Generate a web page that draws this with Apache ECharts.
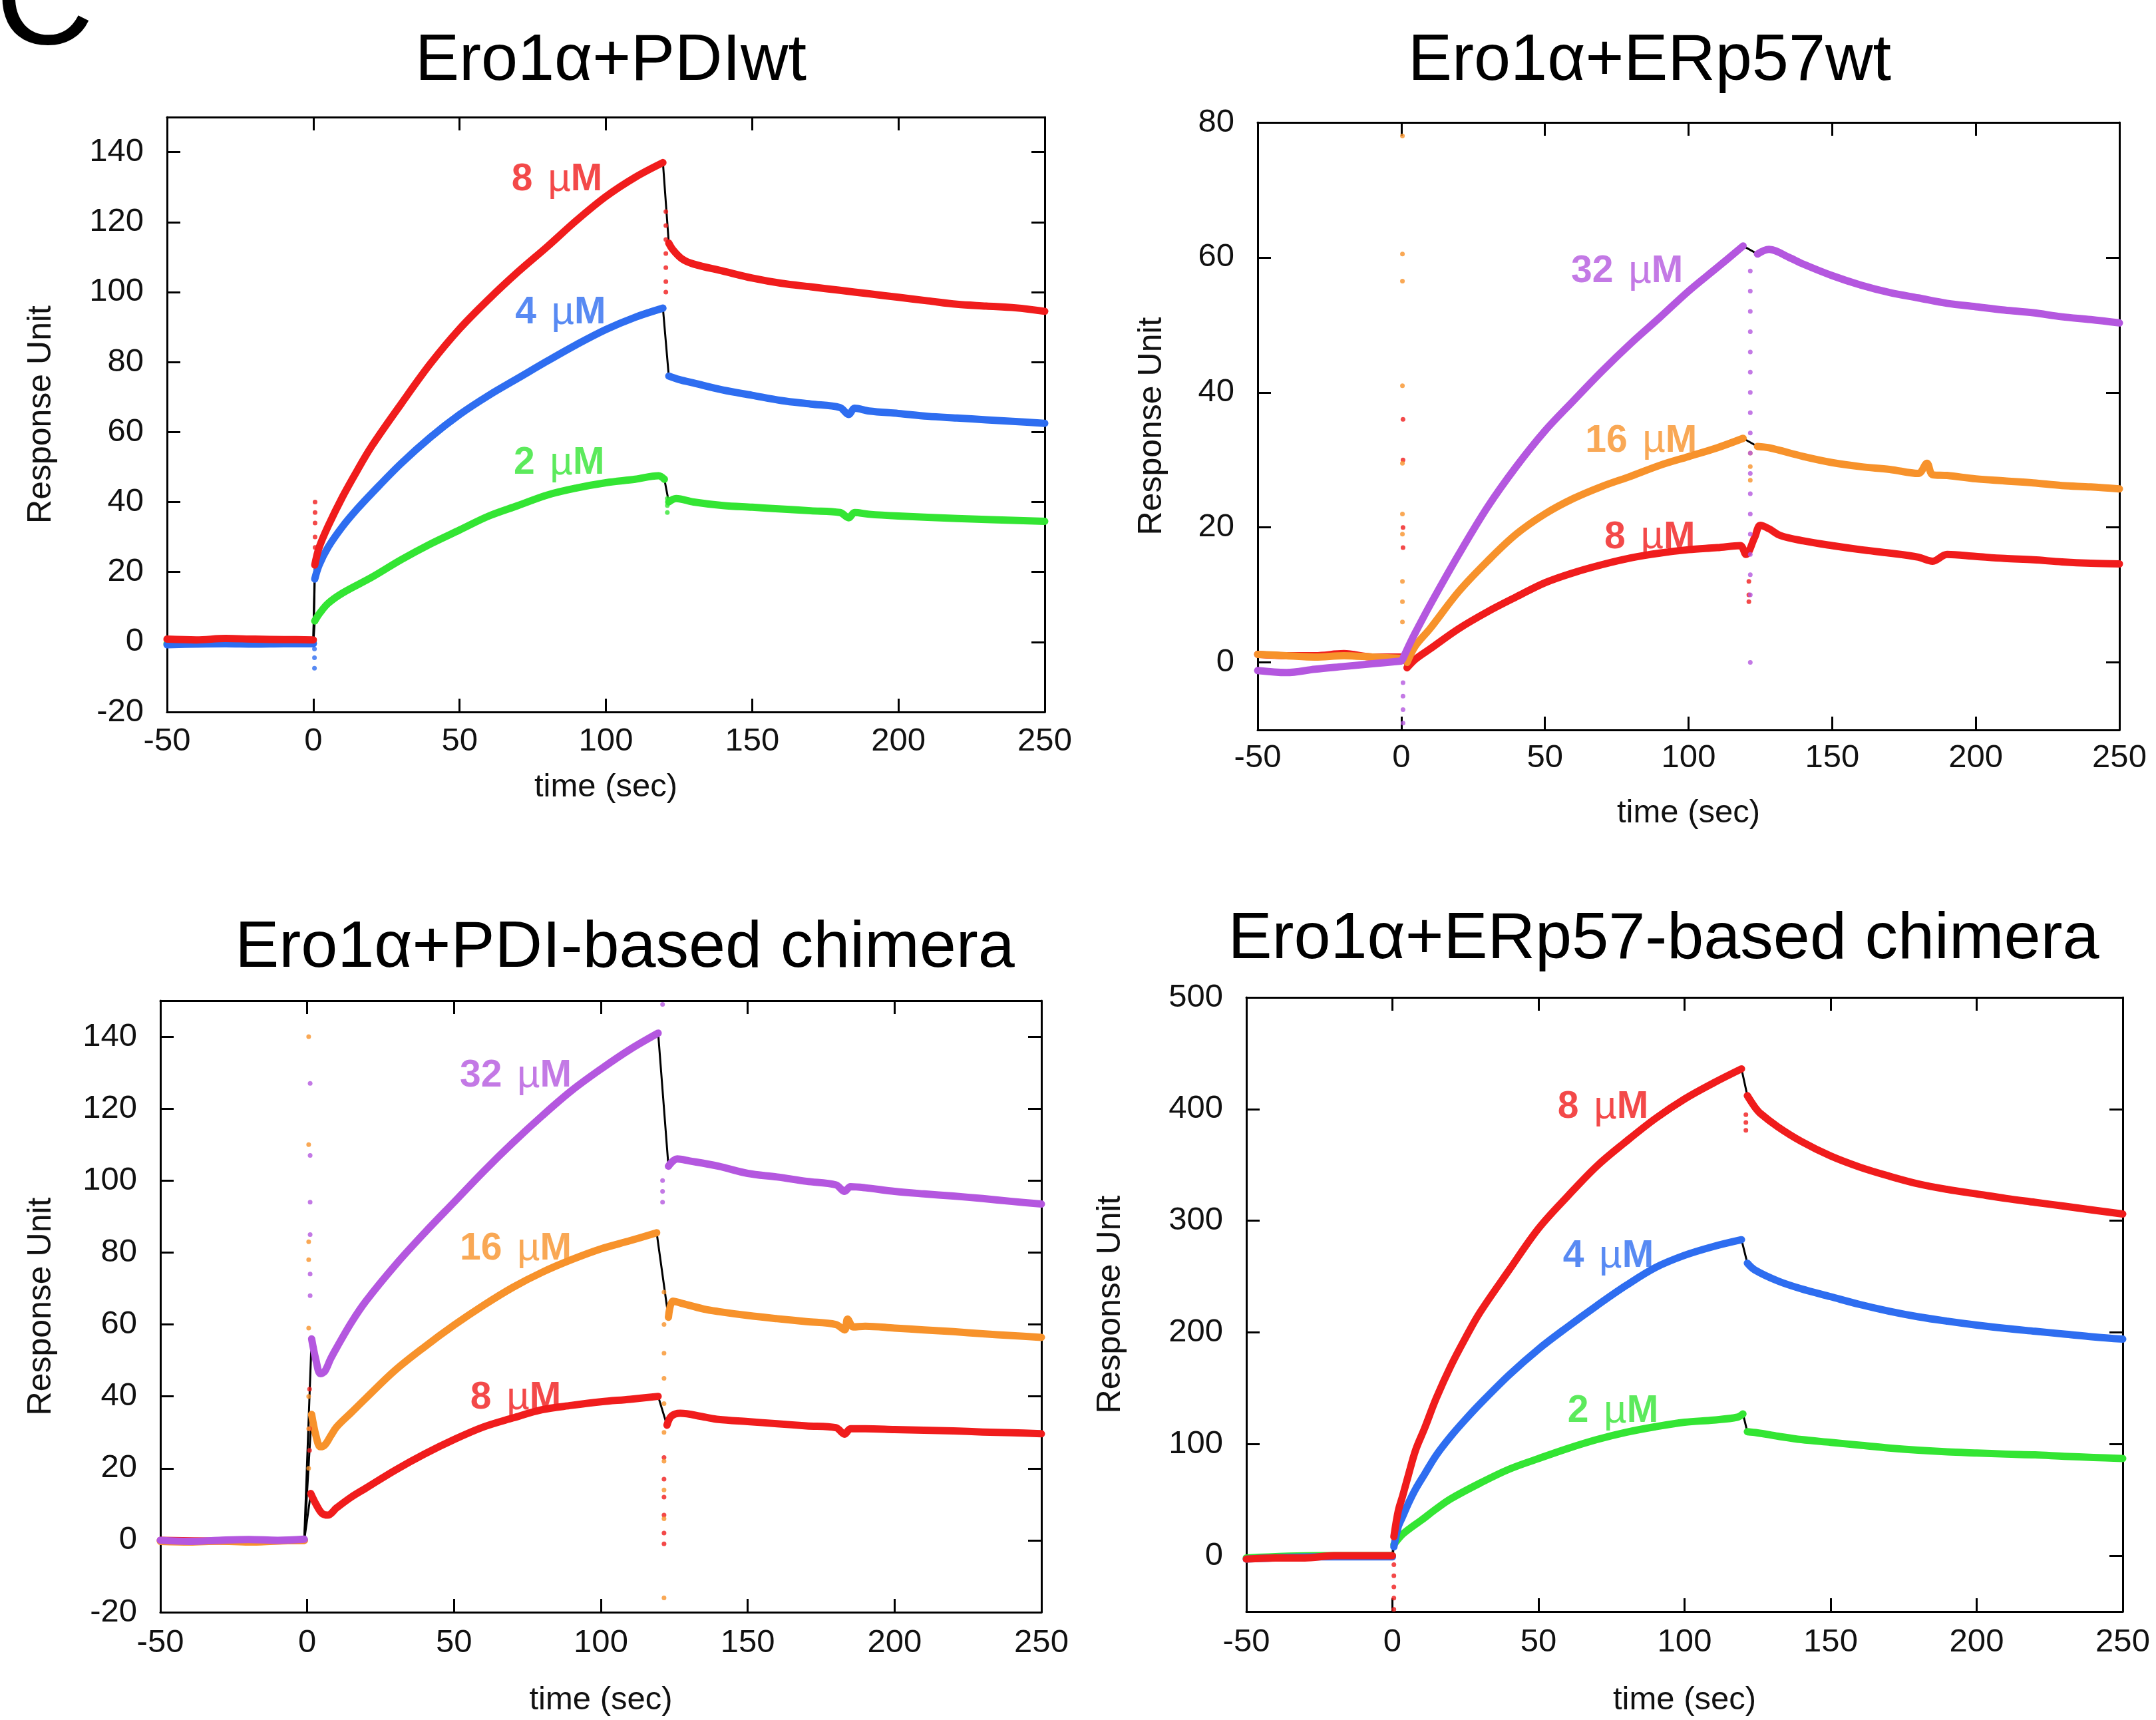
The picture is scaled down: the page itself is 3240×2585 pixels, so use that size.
<!DOCTYPE html>
<html><head><meta charset="utf-8">
<script src="https://cdn.jsdelivr.net/npm/echarts@6/dist/echarts.min.js"></script>
<style>html,body{margin:0;padding:0;background:#fff}#c{width:3240px;height:2585px}</style>
</head><body><div id="c"></div>
<script>
// ---------- tick labels ----------
const X_TICKS = [-50, 0, 50, 100, 150, 200, 250];
const Y_TICKS_PDI = [-20, 0, 20, 40, 60, 80, 100, 120, 140];
const Y_TICKS_ERP57 = [0, 20, 40, 60, 80];
const Y_TICKS_ERP57CH = [0, 100, 200, 300, 400, 500];

// ---------- panel 1: Ero1a+PDIwt ----------
const P1_RED = [[-50,0.8],[-40,0.6],[-30,1.0],[-20,0.8],[-10,0.7],[0,0.6],null,
 [0.5,22],[2,27],[5,33],[10,41.5],[15,49],[20,56],[30,68],[40,79.5],[50,89.5],[60,98],[70,105.8],[80,113],[90,120.5],[100,127.3],[110,132.8],[119.5,137],null,
 [121.5,114],[123,112],[126,109.5],[130,108],[140,106],[150,104],[160,102.5],[170,101.5],[180,100.5],[190,99.5],[200,98.5],[210,97.5],[220,96.5],[230,96],[240,95.5],[250,94.5]];
const P1_BLUE = [[-50,-0.8],[-40,-0.6],[-30,-0.5],[-20,-0.6],[-10,-0.5],[0,-0.5],null,
 [0.5,18],[2,22],[5,27],[10,33],[15,38],[20,42.5],[30,51],[40,58.5],[50,65],[60,70.5],[70,75.4],[80,80.3],[90,85],[100,89.3],[110,92.8],[119.5,95.4],null,
 [121.5,76],[125,75],[130,74],[140,72],[150,70.5],[160,69],[170,68],[180,67],[183,65],[185,66.8],[190,66],[200,65.3],[210,64.5],[220,64],[230,63.5],[240,63],[250,62.5]];
const P1_GREEN = [[-50,-0.5],[-30,-0.4],[-10,-0.3],[0,-0.3],null,
 [0.5,6],[2,8],[5,11],[10,14],[20,18.5],[30,23.5],[40,28],[50,32],[60,36],[70,39],[80,42],[90,44],[100,45.5],[110,46.5],[118,47.5],[120,46.5],null,
 [121.5,40],[124,41],[130,40],[140,39],[150,38.5],[160,38],[170,37.5],[180,37],[183,35.5],[185,37],[190,36.5],[200,36],[220,35.3],[250,34.5]];
const P1_RED_SPK = [[0.6,40],[0.6,37],[0.6,34],[0.6,30],[0.6,27],[120.5,123],[120.5,119],[120.5,115],[120.5,111],[120.5,107],[120.5,103],[120.5,100]];
const P1_BLUE_SPK = [[0.4,-2],[0.4,-4.5],[0.4,-7.5]];
const P1_GREEN_SPK = [[121,37],[121,39],[121,41]];

// ---------- panel 2: Ero1a+ERp57wt ----------
const P2_PURPLE = [[-50,-1.2],[-40,-1.5],[-30,-1],[-20,-0.6],[-10,-0.2],[0,0.2],null,
 [0.5,0.5],[3,2.8],[5,4.5],[10,8.5],[20,16],[30,23],[40,29],[50,34.3],[60,38.8],[70,43.2],[80,47.3],[90,51.1],[100,55],[110,58.5],[119,61.7],null,
 [124,60.5],[128,61.2],[135,60],[140,59],[150,57.3],[160,55.9],[170,54.8],[180,54],[190,53.2],[200,52.7],[210,52.2],[220,51.8],[230,51.2],[240,50.8],[250,50.3]];
const P2_ORANGE = [[-50,1.2],[-40,1.0],[-30,0.8],[-20,1.0],[-10,0.8],[0,0.6],null,
 [2,0],[5,2.5],[10,5],[20,10.5],[30,15],[40,19],[50,22],[60,24.3],[70,26.1],[80,27.6],[90,29.2],[100,30.5],[110,31.8],[119,33.2],null,
 [124,32],[128,31.8],[140,30.5],[150,29.6],[160,29],[170,28.6],[180,28],[183,29.5],[185,27.8],[190,27.7],[200,27.2],[210,26.9],[220,26.6],[230,26.2],[240,26],[250,25.7]];
const P2_RED = [[-50,1.2],[-40,1.0],[-30,1.0],[-20,1.3],[-10,0.8],[0,0.8],null,
 [2,-0.8],[5,0.5],[10,2],[20,5],[30,7.5],[40,9.7],[50,11.8],[60,13.3],[70,14.5],[80,15.5],[90,16.2],[100,16.7],[110,17],[118,17.3],[120,16],
 [123,18.5],[125,20.3],[128,19.8],[132,18.8],[140,18],[150,17.3],[160,16.7],[170,16.2],[180,15.6],[185,15],[190,16],[200,15.7],[210,15.4],[220,15.2],[230,14.9],[240,14.7],[250,14.6]];
const P2_PURPLE_SPK = [[0.6,-3],[0.6,-5],[0.6,-7],[0.6,-9],[121.5,58],[121.5,55],[121.5,52],[121.5,49],[121.5,46],[121.5,43],[121.5,40],[121.5,37],[121.5,34],[121.5,31],[121.5,28],[121.5,25],[121.5,22],[121.5,19],[121.5,16],[121.5,13],[121.5,10],[121.5,0]];
const P2_ORANGE_SPK = [[0.4,78],[0.4,60.5],[0.4,56.5],[0.4,41],[0.4,29.5],[0.4,22],[0.4,19],[0.4,12],[0.4,9],[0.4,6],[121.5,31],[121.5,29],[121.5,27]];
const P2_RED_SPK = [[0.6,36],[0.6,30],[0.6,20],[0.6,17],[121,12],[121,10],[121,9]];

// ---------- panel 3: Ero1a+PDI-based chimera ----------
const P3_PURPLE = [[-50,0],[-40,-0.3],[-30,0],[-20,0.2],[-10,0],[-1,0.3],null,
 [1.5,56],[3,50],[4.5,46.3],[6,47],[8,50.5],[10,53.5],[15,60.5],[20,66.5],[30,76.5],[40,85.5],[50,94],[60,102.5],[70,110.5],[80,118],[90,125],[100,131],[110,136.5],[119.5,141],null,
 [123,104],[126,106],[130,105.5],[140,104],[150,102],[160,101],[170,99.8],[180,98.8],[183,97],[185,98.3],[190,98],[200,97],[210,96.3],[220,95.7],[230,95],[240,94.2],[250,93.5]];
const P3_ORANGE = [[-50,-0.3],[-40,-0.5],[-30,-0.2],[-20,-0.5],[-10,-0.2],[-1,0],null,
 [1.5,35],[3,29],[4.5,26],[6,26.5],[8,29],[10,31.5],[15,35.5],[20,39.5],[30,47.3],[40,53.8],[50,59.8],[60,65.3],[70,70.3],[80,74.5],[90,78],[100,81],[110,83.3],[119,85.5],null,
 [123,62],[124.5,66.5],[127,66],[135,64.3],[140,63.6],[150,62.5],[160,61.6],[170,60.8],[180,60],[183,58.5],[184,61.5],[186,59.3],[190,59.5],[200,59],[210,58.5],[220,58],[230,57.4],[240,56.9],[250,56.4]];
const P3_RED = [[-50,0],[-25,-0.2],[-1,0],null,
 [1.2,13],[3,10],[5,7.5],[7,7],[10,9],[15,12],[20,14.5],[30,19.5],[40,24],[50,28],[60,31.5],[70,34],[80,36.3],[90,37.5],[100,38.5],[110,39.2],[119.5,40],null,
 [122.5,32],[124,34.5],[127,35.3],[135,34.3],[140,33.6],[150,33],[160,32.4],[170,31.8],[180,31.3],[183,29.5],[185,31],[190,31],[200,30.8],[210,30.6],[220,30.4],[230,30.1],[240,29.9],[250,29.6]];
const P3_PURPLE_SPK = [[1,127],[1,107],[1,94],[1,85],[1,74],[1,68],[121,149],[121,100],[121,97],[121,94]];
const P3_ORANGE_SPK = [[0.5,140],[0.5,110],[0.5,83],[0.5,78],[0.5,59],[0.5,40],[0.5,31],[0.5,20],[121.5,69],[121.5,60],[121.5,52],[121.5,45],[121.5,38],[121.5,30],[121.5,22],[121.5,14],[121.5,6],[121.5,-16]];
const P3_RED_SPK = [[0.8,42],[0.8,31],[0.8,25],[121.5,23],[121.5,17],[121.5,12],[121.5,7],[121.5,2],[121.5,-1]];

// ---------- panel 4: Ero1a+ERp57-based chimera ----------
const P4_RED = [[-50,-3],[-40,-2],[-30,-2],[-20,0],[-10,0],[0,0],null,
 [0.5,17],[2,40],[3.5,53.5],[5.5,72.5],[8,95],[11,114],[15,141],[20,170],[25,195],[30,218],[40,256],[50,293],[60,322],[70,349],[80,371],[90,391.5],[100,409],[110,423.5],[119.5,436],null,
 [121.5,412],[124,402],[126,396],[132,384],[140,371],[150,358],[160,348],[170,340],[180,333],[190,328],[200,324],[210,320],[220,316.5],[230,313],[240,309.5],[250,306]];
const P4_BLUE = [[-50,-3],[-25,-1],[0,-1],null,
 [0.5,8],[2,26],[3.5,35],[5.5,47],[8,60],[11,73],[15,90],[20,107],[25,122],[30,136],[40,162],[50,185],[60,205],[70,224],[80,242],[90,258],[100,269],[110,277],[119.5,283],null,
 [121.5,262],[124,256],[132,246],[140,239],[150,232],[160,225],[170,219],[180,214],[190,210],[200,206.5],[210,203.5],[220,201],[230,198.5],[240,196],[250,194]];
const P4_GREEN = [[-50,-2],[-25,0],[0,0],null,
 [0.5,10],[3,18],[5.5,23.5],[10,32],[15,42],[20,51],[30,65],[40,77.5],[50,87],[60,96],[70,104],[80,110.5],[90,115.5],[100,119.5],[110,121.5],[118,124],[120,127],null,
 [121.5,111],[125,110],[132,107],[140,104],[150,101.5],[160,99],[170,96.5],[180,94.5],[190,93],[200,92],[210,91],[220,90.3],[230,89],[240,88],[250,87]];
const P4_RED_SPK = [[0.5,-8],[0.5,-18],[0.5,-28],[0.5,-38],[0.5,-48],[121,395],[121,388],[121,381]];
const EMPTY = [];

// ---------- styling ----------
const FONT = "'Liberation Sans', Arial, Helvetica, sans-serif";
const RED = '#f01c1c', BLUE = '#2e6df0', GREEN = '#33e533', ORANGE = '#f7922b', PURPLE = '#b457df';

const panels = [
  { title:'Ero1\u03b1+PDIwt', tx:918, ty:93, grid:{left:251, top:176, width:1319, height:894},
    yMin:-20, yMax:150, yTicks:Y_TICKS_PDI, xMargin:20, xNameGap:89, yNameGap:164,
    curves:[
      {conc:'2', color:GREEN, data:P1_GREEN, spikes:P1_GREEN_SPK, at:[84,51]},
      {conc:'4', color:BLUE, data:P1_BLUE, spikes:P1_BLUE_SPK, at:[84.5,94]},
      {conc:'8', color:RED, data:P1_RED, spikes:P1_RED_SPK, at:[83.3,132]}
    ]},
  { title:'Ero1\u03b1+ERp57wt', tx:2479, ty:93, grid:{left:1890, top:184, width:1295, height:913},
    yMin:-10, yMax:80, yTicks:Y_TICKS_ERP57, xMargin:18, xNameGap:101, yNameGap:134,
    curves:[
      {conc:'8', color:RED, data:P2_RED, spikes:P2_RED_SPK, at:[86.5,18.5]},
      {conc:'16', color:ORANGE, data:P2_ORANGE, spikes:P2_ORANGE_SPK, at:[83.5,32.8]},
      {conc:'32', color:PURPLE, data:P2_PURPLE, spikes:P2_PURPLE_SPK, at:[78.6,57.9]}
    ]},
  { title:'Ero1\u03b1+PDI-based chimera', tx:939, ty:1426, grid:{left:241, top:1504, width:1324, height:919},
    yMin:-20, yMax:150, yTicks:Y_TICKS_PDI, xMargin:22, xNameGap:108, yNameGap:154,
    curves:[
      {conc:'8', color:RED, data:P3_RED, spikes:P3_RED_SPK, at:[71,39.5]},
      {conc:'16', color:ORANGE, data:P3_ORANGE, spikes:P3_ORANGE_SPK, at:[71,81]},
      {conc:'32', color:PURPLE, data:P3_PURPLE, spikes:P3_PURPLE_SPK, at:[71,129]}
    ]},
  { title:'Ero1\u03b1+ERp57-based chimera', tx:2500, ty:1413, grid:{left:1873, top:1499, width:1317, height:923},
    yMin:-50, yMax:500, yTicks:Y_TICKS_ERP57CH, xMargin:22, xNameGap:109, yNameGap:179,
    curves:[
      {conc:'2', color:GREEN, data:P4_GREEN, spikes:EMPTY, at:[75.5,129]},
      {conc:'4', color:BLUE, data:P4_BLUE, spikes:EMPTY, at:[73.9,268]},
      {conc:'8', color:RED, data:P4_RED, spikes:P4_RED_SPK, at:[72.1,401.5]}
    ]}
];

function segs(arr){ const out=[]; let cur=[]; for(const p of arr){ if(p===null){ if(cur.length) out.push(cur); cur=[]; } else cur.push(p); } if(cur.length) out.push(cur); return out; }

const option = { animation:false, backgroundColor:'#ffffff', grid:[], xAxis:[], yAxis:[], series:[], graphic:[] };
const axisLine = { show:true, onZero:false, lineStyle:{ color:'#000', width:3 } };
const tickBase = { show:true, inside:true, length:20, lineStyle:{ color:'#000', width:3 } };
const labelText = { fontSize:49, color:'#111', fontFamily:FONT };

panels.forEach((p, i) => {
  option.grid.push({ left:p.grid.left, top:p.grid.top, width:p.grid.width, height:p.grid.height });
  option.xAxis.push({ type:'value', gridIndex:i, position:'bottom', min:-50, max:250, interval:50,
    axisLine, axisTick:Object.assign({}, tickBase, {customValues:X_TICKS}),
    axisLabel:Object.assign({ customValues:X_TICKS, margin:p.xMargin }, labelText),
    splitLine:{show:false}, name:'time (sec)', nameLocation:'middle', nameGap:p.xNameGap, nameTextStyle:labelText });
  option.xAxis.push({ type:'value', gridIndex:i, position:'top', min:-50, max:250, interval:50,
    axisLine, axisTick:Object.assign({}, tickBase, {customValues:X_TICKS}), axisLabel:{show:false}, splitLine:{show:false} });
  option.yAxis.push({ type:'value', gridIndex:i, position:'left', min:p.yMin, max:p.yMax,
    axisLine, axisTick:Object.assign({}, tickBase, {customValues:p.yTicks}),
    axisLabel:Object.assign({ customValues:p.yTicks, margin:35 }, labelText),
    splitLine:{show:false}, name:'Response Unit', nameLocation:'middle', nameGap:p.yNameGap,
    nameTextStyle:Object.assign({}, labelText, {fontSize:50}) });
  option.yAxis.push({ type:'value', gridIndex:i, position:'right', min:p.yMin, max:p.yMax,
    axisLine, axisTick:Object.assign({}, tickBase, {customValues:p.yTicks}), axisLabel:{show:false}, splitLine:{show:false} });
  const xi = 2*i, yi = 2*i;
  // black fitted curves (behind the data)
  p.curves.forEach(c => option.series.push({ type:'line', xAxisIndex:xi, yAxisIndex:yi,
    data:c.data.filter(d => d !== null), showSymbol:false, silent:true, z:2,
    lineStyle:{ color:'#000', width:3 }, itemStyle:{ color:'#000' } }));
  // measured data
  p.curves.forEach(c => segs(c.data).forEach(s => option.series.push({ type:'line', xAxisIndex:xi, yAxisIndex:yi,
    data:s, showSymbol:false, smooth:0.35, silent:true, z:3,
    lineStyle:{ color:c.color, width:11, cap:'round', join:'round' }, itemStyle:{ color:c.color } })));
  // injection artefacts
  p.curves.forEach(c => option.series.push({ type:'scatter', xAxisIndex:xi, yAxisIndex:yi,
    data:c.spikes, symbolSize:7, silent:true, z:4, itemStyle:{ color:c.color } }));
  // concentration labels, e.g. "8 µM"
  p.curves.forEach(c => option.series.push({ type:'scatter', xAxisIndex:xi, yAxisIndex:yi,
    data:[c.at], symbolSize:1, silent:true, z:5, itemStyle:{ color:'rgba(0,0,0,0)' },
    label:{ show:true, position:'inside', formatter:'{b|' + c.conc + '}{u| \u00b5}{b|M}',
      rich:{ b:{ fontSize:57, fontWeight:'bold', color:c.color, fontFamily:FONT },
             u:{ fontSize:60, fontWeight:'normal', color:c.color, fontFamily:FONT, padding:[0,0,0,6] } } } }));
  option.graphic.push({ type:'text', x:p.tx, y:p.ty, silent:true,
    style:{ text:p.title, fontSize:99, fontFamily:FONT, fill:'#000', align:'center', verticalAlign:'middle' } });
});
// cut-off panel letter at the top-left corner
option.graphic.push({ type:'text', x:-7, y:9, silent:true,
  style:{ text:'C', fontSize:205, fontFamily:FONT, fill:'#000', align:'left', verticalAlign:'middle' } });

const chart = echarts.init(document.getElementById('c'), null, { renderer:'canvas', width:3240, height:2585 });
chart.setOption(option);
</script>
</body></html>
